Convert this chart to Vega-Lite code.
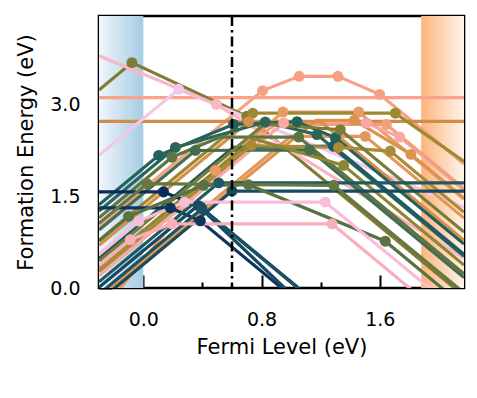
{
"$schema": "https://vega.github.io/schema/vega-lite/v6.json",
"width": 365, "height": 272,
"autosize": {"type": "none"},
"padding": {"left": 99, "top": 16, "right": 13, "bottom": 110},
"background": "white",
"config": {
  "view": {"stroke": "#000000", "strokeWidth": 2.6},
  "axis": {"labelFont": "DejaVu Sans", "titleFont": "DejaVu Sans", "labelColor": "#000000", "titleColor": "#000000", "tickColor": "#000000", "grid": false, "domain": false, "zindex": 1, "titleFontWeight": "normal", "ticks": true}
},
"datasets": {
  "lines": [
    {"id":"S1","x":-0.3,"y":1.02,"m":0},{"id":"S1","x":0.807,"y":3.229,"m":1},{"id":"S1","x":1.055,"y":3.463,"m":1},{"id":"S1","x":1.317,"y":3.463,"m":1},{"id":"S1","x":1.599,"y":3.168,"m":1},{"id":"S1","x":2.17,"y":2.03,"m":0},
    {"id":"S2","x":-0.3,"y":3.114,"m":0},{"id":"S2","x":2.17,"y":3.114,"m":0},
    {"id":"OH","x":-0.3,"y":2.726,"m":0},{"id":"OH","x":2.17,"y":2.726,"m":0},
    {"id":"L1","x":-0.3,"y":3.24,"m":0},{"id":"L1","x":-0.077,"y":3.687,"m":1},{"id":"L1","x":0.70,"y":2.81,"m":1},{"id":"L1","x":2.17,"y":-0.13,"m":0},
    {"id":"L2","x":-0.3,"y":2.17,"m":0},{"id":"L2","x":0.239,"y":3.25,"m":1},{"id":"L2","x":2.17,"y":1.32,"m":0},
    {"id":"L3","x":-0.3,"y":3.80,"m":0},{"id":"L3","x":0.494,"y":3.005,"m":1},{"id":"L3","x":2.17,"y":0.49,"m":0},
    {"id":"O1","x":-0.3,"y":-0.44,"m":0},{"id":"O1","x":0.487,"y":1.924,"m":1},{"id":"O1","x":0.945,"y":2.879,"m":1},{"id":"O1","x":1.457,"y":2.879,"m":1},{"id":"O1","x":2.17,"y":1.45,"m":0},
    {"id":"O2","x":-0.3,"y":0.78,"m":0},{"id":"O2","x":0.74,"y":2.86,"m":1},{"id":"O2","x":1.705,"y":2.86,"m":1},{"id":"O2","x":2.17,"y":2.07,"m":0},
    {"id":"P1","x":-0.3,"y":0.20,"m":0},{"id":"P1","x":0.949,"y":2.70,"m":1},{"id":"P1","x":1.509,"y":2.70,"m":1},{"id":"P1","x":1.735,"y":2.47,"m":1},{"id":"P1","x":2.17,"y":1.60,"m":0},
    {"id":"S3","x":-0.3,"y":0.297,"m":0},{"id":"S3","x":0.89,"y":2.677,"m":0},{"id":"S3","x":1.644,"y":2.677,"m":1},{"id":"S3","x":2.17,"y":1.625,"m":0},
    {"id":"O4","x":-0.3,"y":-0.17,"m":0},{"id":"O4","x":1.17,"y":2.743,"m":0},{"id":"O4","x":1.428,"y":2.743,"m":1},{"id":"O4","x":1.811,"y":2.186,"m":1},{"id":"O4","x":2.17,"y":1.47,"m":0},
    {"id":"H7","x":-0.3,"y":0.70,"m":0},{"id":"H7","x":0.712,"y":2.72,"m":1},{"id":"H7","x":1.20,"y":2.72,"m":0},{"id":"H7","x":2.17,"y":0.78,"m":0},
    {"id":"H8","x":-0.3,"y":-0.12,"m":0},{"id":"H8","x":0.999,"y":2.481,"m":0},{"id":"H8","x":1.502,"y":2.481,"m":1},{"id":"H8","x":2.17,"y":1.145,"m":0},
    {"id":"H1","x":-0.3,"y":1.36,"m":0},{"id":"H1","x":0.104,"y":2.17,"m":1},{"id":"H1","x":0.611,"y":2.677,"m":1},{"id":"H1","x":1.04,"y":2.72,"m":1},{"id":"H1","x":1.299,"y":2.46,"m":1},{"id":"H1","x":2.17,"y":0.72,"m":0},
    {"id":"H2","x":-0.3,"y":1.26,"m":0},{"id":"H2","x":0.217,"y":2.30,"m":1},{"id":"H2","x":0.825,"y":2.715,"m":1},{"id":"H2","x":1.175,"y":2.51,"m":1},{"id":"H2","x":2.17,"y":0.52,"m":0},
    {"id":"H3","x":-0.3,"y":0.95,"m":0},{"id":"H3","x":0.352,"y":2.25,"m":1},{"id":"H3","x":1.125,"y":2.26,"m":1},{"id":"H3","x":2.17,"y":0.17,"m":0},
    {"id":"H4","x":-0.3,"y":1.15,"m":0},{"id":"H4","x":0.194,"y":2.14,"m":1},{"id":"H4","x":0.52,"y":2.469,"m":0},{"id":"H4","x":1.051,"y":2.469,"m":1},{"id":"H4","x":2.17,"y":0.23,"m":0},
    {"id":"H5","x":-0.3,"y":0.48,"m":0},{"id":"H5","x":0.61,"y":2.30,"m":0},{"id":"H5","x":1.286,"y":2.32,"m":1},{"id":"H5","x":2.17,"y":0.55,"m":0},
    {"id":"H6","x":-0.3,"y":0.27,"m":0},{"id":"H6","x":0.731,"y":2.33,"m":1},{"id":"H6","x":1.321,"y":2.30,"m":1},{"id":"H6","x":1.671,"y":2.24,"m":1},{"id":"H6","x":2.17,"y":1.24,"m":0},
    {"id":"H9","x":-0.3,"y":0.44,"m":0},{"id":"H9","x":0.82,"y":2.68,"m":0},{"id":"H9","x":1.333,"y":2.59,"m":1},{"id":"H9","x":2.17,"y":0.916,"m":0},
    {"id":"H10","x":-0.3,"y":0.34,"m":0},{"id":"H10","x":0.75,"y":2.44,"m":0},{"id":"H10","x":1.355,"y":2.006,"m":1},{"id":"H10","x":2.17,"y":0.376,"m":0},
    {"id":"N1","x":-0.3,"y":1.572,"m":0},{"id":"N1","x":0.137,"y":1.572,"m":1},{"id":"N1","x":0.39,"y":1.32,"m":1},{"id":"N1","x":2.17,"y":-2.24,"m":0},
    {"id":"N2","x":-0.3,"y":1.31,"m":0},{"id":"N2","x":0.183,"y":1.31,"m":1},{"id":"N2","x":0.386,"y":1.10,"m":1},{"id":"N2","x":2.17,"y":-2.47,"m":0},
    {"id":"N3","x":-0.3,"y":0.01,"m":0},{"id":"N3","x":0.37,"y":1.35,"m":1},{"id":"N3","x":2.17,"y":-2.79,"m":0},
    {"id":"N4","x":-0.3,"y":-0.1,"m":0},{"id":"N4","x":0.397,"y":1.297,"m":1},{"id":"N4","x":2.17,"y":-2.25,"m":0},
    {"id":"TH1","x":-0.3,"y":0.10,"m":0},{"id":"TH1","x":0.51,"y":1.72,"m":1},{"id":"TH1","x":2.17,"y":1.72,"m":0},
    {"id":"TH2","x":-0.3,"y":-0.215,"m":0},{"id":"TH2","x":0.60,"y":1.585,"m":1},{"id":"TH2","x":2.17,"y":1.585,"m":0},
    {"id":"OLH","x":-0.3,"y":1.06,"m":0},{"id":"OLH","x":0.025,"y":1.706,"m":1},{"id":"OLH","x":1.288,"y":1.68,"m":1},{"id":"OLH","x":2.17,"y":-0.08,"m":0},
    {"id":"OG1","x":-0.3,"y":0.77,"m":0},{"id":"OG1","x":-0.1,"y":1.17,"m":1},{"id":"OG1","x":0.408,"y":1.68,"m":1},{"id":"OG1","x":0.712,"y":1.69,"m":1},{"id":"OG1","x":1.637,"y":0.765,"m":1},{"id":"OG1","x":2.17,"y":-0.30,"m":0},
    {"id":"PK1","x":-0.3,"y":0.554,"m":0},{"id":"PK1","x":-0.03,"y":1.094,"m":1},{"id":"PK1","x":0.279,"y":1.405,"m":1},{"id":"PK1","x":1.231,"y":1.405,"m":1},{"id":"PK1","x":2.17,"y":-0.47,"m":0},
    {"id":"PK2","x":-0.3,"y":0.365,"m":0},{"id":"PK2","x":-0.088,"y":0.789,"m":1},{"id":"PK2","x":0.194,"y":1.05,"m":1},{"id":"PK2","x":1.277,"y":1.05,"m":1},{"id":"PK2","x":2.17,"y":-0.74,"m":0}
  ]
},
"layer": [
  {
    "data": {"values": [{"x": -0.3, "x2": 0.0}]},
    "mark": {"type": "rect", "strokeWidth": 0, "fill": {"gradient": "linear", "x1": 0, "y1": 0, "x2": 1, "y2": 0, "stops": [{"offset": 0, "color": "#f0f6fc"}, {"offset": 1, "color": "#a6cbe2"}]}},
    "encoding": {
      "x": {"field": "x", "type": "quantitative", "scale": {"domain": [-0.3, 2.17], "nice": false, "zero": false}},
      "x2": {"field": "x2"}
    }
  },
  {
    "data": {"values": [{"x": 1.88, "x2": 2.17}]},
    "mark": {"type": "rect", "strokeWidth": 0, "fill": {"gradient": "linear", "x1": 0, "y1": 0, "x2": 1, "y2": 0, "stops": [{"offset": 0, "color": "#fdb47c"}, {"offset": 1, "color": "#fff3ea"}]}},
    "encoding": {
      "x": {"field": "x", "type": "quantitative", "scale": {"domain": [-0.3, 2.17], "nice": false, "zero": false}},
      "x2": {"field": "x2"}
    }
  },
  {
    "data": {"name": "lines"},
    "mark": {"type": "line", "clip": true, "strokeWidth": 3.2},
    "encoding": {
      "x": {"field": "x", "type": "quantitative", "scale": {"domain": [-0.3, 2.17], "nice": false, "zero": false},
        "axis": {"values": [0, 0.4, 0.8, 1.2, 1.6, 2.0], "offset": -13,
          "labelExpr": "abs(datum.value - 0.8*round(datum.value/0.8)) < 0.001 ? format(datum.value, '.1f') : ''",
          "tickSize": 13,
          "tickDash": {"condition": {"test": "abs(datum.value - 0.8*round(datum.value/0.8)) < 0.001", "value": [20, 1]}, "value": [0, 7, 6, 40]},
          "tickWidth": 2, "labelFontSize": 19, "labelPadding": 22,
          "title": "Fermi Level (eV)", "titleFontSize": 21, "titleY": 78, "titleBaseline": "alphabetic"}},
      "y": {"field": "y", "type": "quantitative", "scale": {"domain": [0, 4.45], "nice": false, "zero": false},
        "axis": {"values": [0, 0.75, 1.5, 2.25, 3.0, 3.75], "offset": -13,
          "labelExpr": "abs(datum.value - 1.5*round(datum.value/1.5)) < 0.001 ? format(datum.value, '.1f') : ''",
          "tickSize": 13,
          "tickDash": {"condition": {"test": "abs(datum.value - 1.5*round(datum.value/1.5)) < 0.001", "value": [20, 1]}, "value": [0, 7, 6, 40]},
          "tickWidth": 2, "labelFontSize": 19, "labelPadding": 19,
          "title": "Formation Energy (eV)", "titleFontSize": 21, "titleX": -80, "titleBaseline": "alphabetic"}},
      "detail": {"field": "id"},
      "color": {"field": "id", "type": "nominal", "legend": null,
        "scale": {"domain": ["S1","S2","OH","L1","L2","L3","O1","O2","P1","S3","O4","H7","H8","H1","H2","H3","H4","H5","H6","H9","H10","N1","N2","N3","N4","TH1","TH2","OLH","OG1","PK1","PK2"],
          "range": ["#f7a184","#f9a38b","#cf8d48","#817b36","#f5c6ec","#fab6c4","#eb9b62","#9c8a30","#f9a9a3","#f39e7c","#dc934f","#d58f4a","#e49858","#24605c","#2c6658","#436d50","#5f7541","#1f5a61","#a98a36","#7a7c38","#8f8632","#0c2d5b","#0f3460","#174a60","#1b5263","#1e5a61","#174c5f","#66773f","#587244","#f9bdd9","#f8aebb"]}}
    }
  },
  {
    "data": {"name": "lines"},
    "transform": [{"filter": "datum.m == 1"}],
    "mark": {"type": "circle", "clip": true, "size": 120, "opacity": 1},
    "encoding": {
      "x": {"field": "x", "type": "quantitative", "scale": {"domain": [-0.3, 2.17], "nice": false, "zero": false}},
      "y": {"field": "y", "type": "quantitative", "scale": {"domain": [0, 4.45], "nice": false, "zero": false}},
      "color": {"field": "id", "type": "nominal", "legend": null}
    }
  },
  {
    "data": {"values": [{"x": 0.6}]},
    "mark": {"type": "rule", "color": "#000000", "strokeWidth": 2.5, "strokeDash": [10, 4, 2.5, 4]},
    "encoding": {
      "x": {"field": "x", "type": "quantitative", "scale": {"domain": [-0.3, 2.17], "nice": false, "zero": false}}
    }
  }
]
}
